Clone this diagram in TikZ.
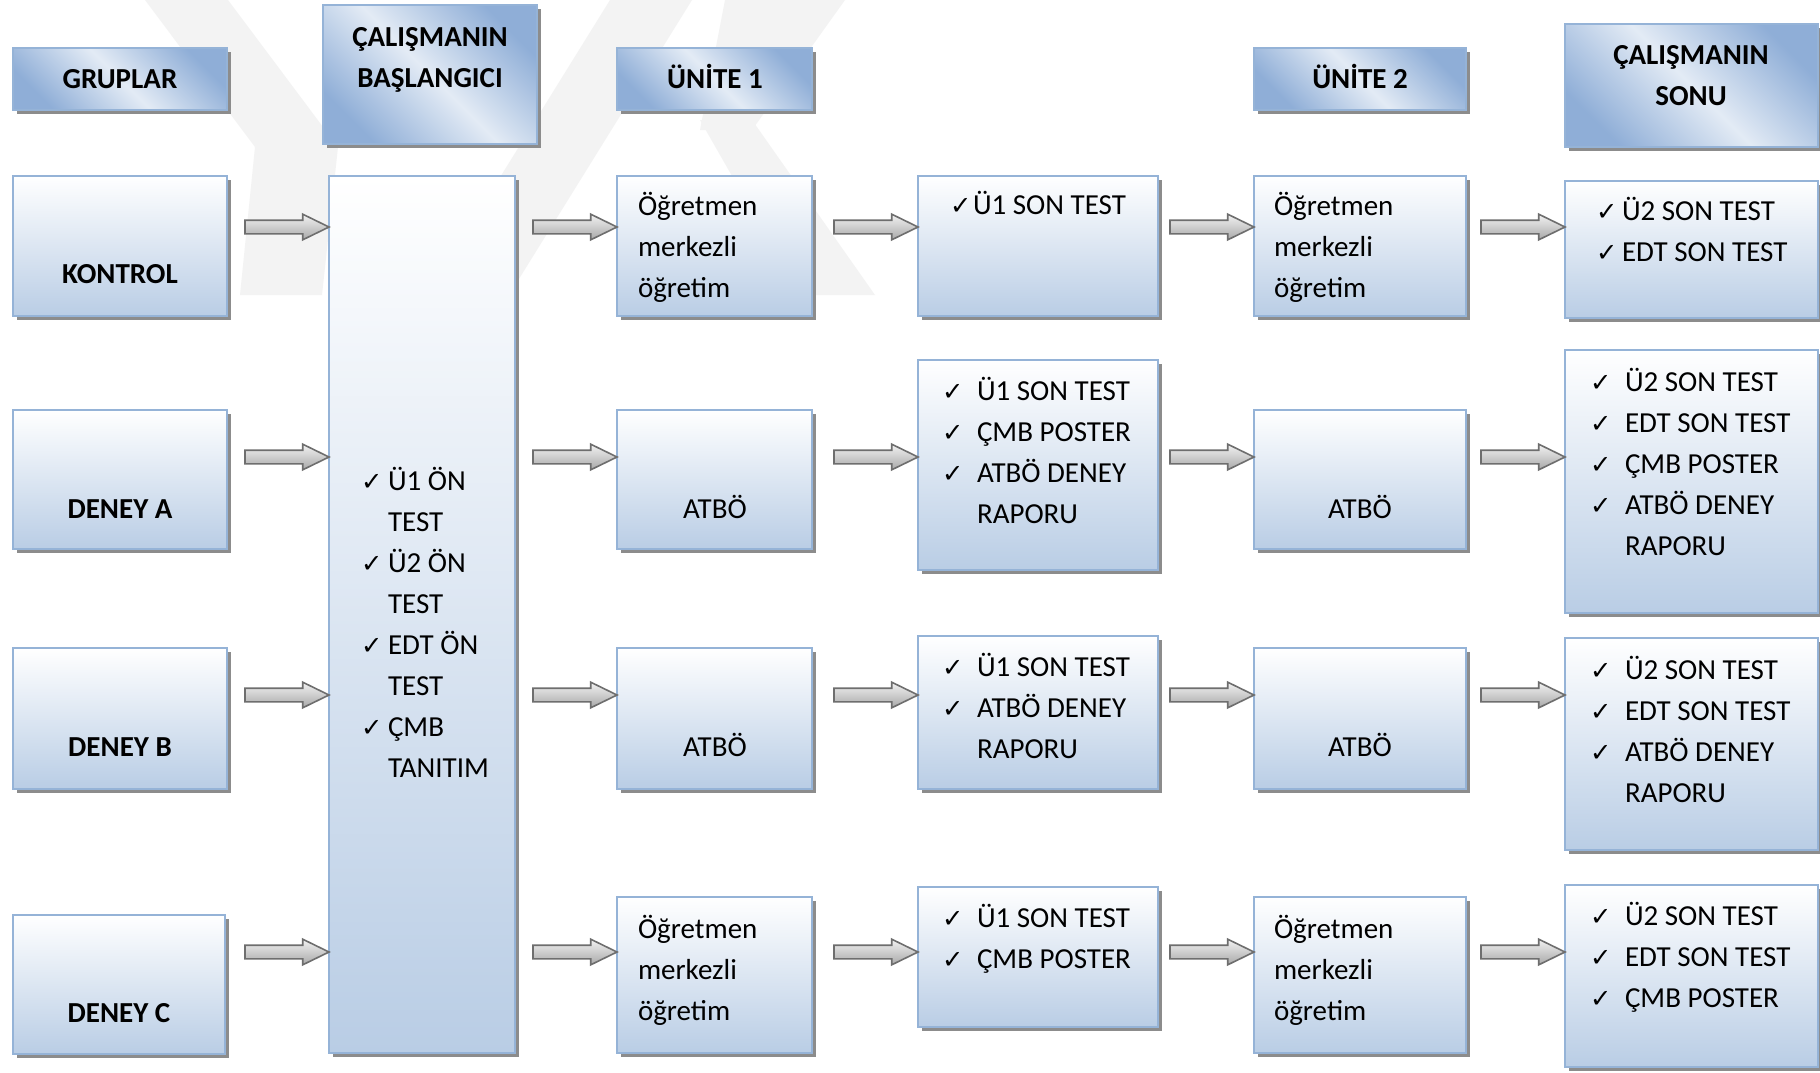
\documentclass[tikz,border=0pt]{standalone}
\usepackage{fontspec}
\setmainfont{Carlito}
\newfontfamily\chkfont{DejaVu Sans}[Scale=0.88]
\usetikzlibrary{shapes.arrows,shadows,calc}

\definecolor{boxline}{HTML}{95B3D7}
\definecolor{boxbot}{HTML}{B9CDE5}
\definecolor{hdark}{HTML}{8FAED7}
\definecolor{hlight}{HTML}{E3EBF5}
\definecolor{shadowgray}{HTML}{8C8C8C}
\definecolor{arrline}{HTML}{6E6E6E}
\definecolor{arrtop}{HTML}{F2F2F2}
\definecolor{arrbot}{HTML}{A8A8A8}
\definecolor{wmark}{HTML}{F3F3F3}

% check mark in a box of fixed width, and the matching indent
\newcommand\ck[1]{\makebox[#1][l]{\chkfont ✓}}
\newcommand\ind[1]{\hspace*{#1}}
\newcommand\fl{\rule{0pt}{30pt}}

\begin{document}
\begin{tikzpicture}[x=1pt,y=-1pt,
  every node/.style={inner sep=0pt,outer sep=0pt},
  shadowed/.style={general shadow={fill=shadowgray,shadow xshift=4pt,shadow yshift=-4pt}},
  panel/.style={shadowed,draw=boxline,line width=2pt,top color=white,bottom color=boxbot,anchor=north west},
  header/.style={shadowed,draw=boxline,line width=2pt,top color=hdark,bottom color=hdark,middle color=hlight,shading angle=-45,anchor=north west},
  lbl/.style={font=\fontsize{29}{41}\selectfont\bfseries,anchor=base},
  hlbl/.style={font=\fontsize{29}{41}\selectfont\bfseries,align=center,anchor=north},
  plain/.style={font=\fontsize{29}{41}\selectfont,anchor=base},
  txt/.style={font=\fontsize{29}{41}\selectfont,align=left,anchor=north west},
  barrow/.style={single arrow,draw=arrline,line width=1.6pt,top color=arrtop,bottom color=arrbot,
    inner xsep=0pt,inner ysep=6pt,minimum height=84pt,single arrow head extend=6pt,
    single arrow tip angle=52,anchor=tip}
]
\fill[white] (0,0) rectangle (1820,1072);
\useasboundingbox (0,0) rectangle (1820,1072);

% faint background emblem
\begin{scope}
\clip (0,0) rectangle (1820,295);
\fill[wmark] (145,0) -- (228,0) -- (338,147) -- (255,147) -- cycle;
\fill[wmark] (255,147) -- (338,147) -- (322,295) -- (240,295) -- cycle;
\fill[wmark] (610,0) -- (692,0) -- (509,295) -- (427,295) -- cycle;
\fill[wmark] (700,120) -- (752,120) -- (875,295) -- (800,295) -- cycle;
\fill[wmark] (725,0) -- (845,0) -- (752,130) -- (700,130) -- cycle;
\end{scope}

% row levels of the arrows
\coordinate (rK) at (0,227);
\coordinate (rA) at (0,457);
\coordinate (rB) at (0,695);
\coordinate (rC) at (0,952);

% header boxes
\node[header,minimum width=214pt,minimum height=62pt]  (hGrp)   at (13,48)  {};
\node[header,minimum width=214pt,minimum height=139pt] (hStart) at (323,5)  {};
\node[header,minimum width=195pt,minimum height=62pt]  (hU1)    at (617,48) {};
\node[header,minimum width=212pt,minimum height=62pt]  (hU2)    at (1254,48) {};
\node[header,minimum width=253pt,minimum height=123pt] (hEnd)   at (1565,24) {};

% groups
\node[panel,minimum width=214pt,minimum height=140pt] (gK) at (13,176) {};
\node[panel,minimum width=214pt,minimum height=139pt] (gA) at (13,410) {};
\node[panel,minimum width=214pt,minimum height=141pt] (gB) at (13,648) {};
\node[panel,minimum width=212pt,minimum height=139pt] (gC) at (13,915) {};

% start of the study
\node[panel,minimum width=186pt,minimum height=877pt] (start) at (329,176) {};

% unit 1
\node[panel,minimum width=195pt,minimum height=140pt] (u1K) at (617,176) {};
\node[panel,minimum width=195pt,minimum height=139pt] (u1A) at (617,410) {};
\node[panel,minimum width=195pt,minimum height=141pt] (u1B) at (617,648) {};
\node[panel,minimum width=195pt,minimum height=156pt] (u1C) at (617,897) {};

% unit 1 tests
\node[panel,minimum width=240pt,minimum height=140pt] (t1K) at (918,176) {};
\node[panel,minimum width=240pt,minimum height=210pt] (t1A) at (918,360) {};
\node[panel,minimum width=240pt,minimum height=153pt] (t1B) at (918,636) {};
\node[panel,minimum width=240pt,minimum height=140pt] (t1C) at (918,887) {};

% unit 2
\node[panel,minimum width=212pt,minimum height=140pt] (u2K) at (1254,176) {};
\node[panel,minimum width=212pt,minimum height=139pt] (u2A) at (1254,410) {};
\node[panel,minimum width=212pt,minimum height=141pt] (u2B) at (1254,648) {};
\node[panel,minimum width=212pt,minimum height=156pt] (u2C) at (1254,897) {};

% end of the study
\node[panel,minimum width=253pt,minimum height=137pt] (eK) at (1565,181) {};
\node[panel,minimum width=253pt,minimum height=263pt] (eA) at (1565,350) {};
\node[panel,minimum width=253pt,minimum height=212pt] (eB) at (1565,638) {};
\node[panel,minimum width=253pt,minimum height=182pt] (eC) at (1565,885) {};

% block arrows
\foreach \r in {K,A,B,C}{
  \node[barrow] (a\r1) at (start.west |- r\r) {};
  \node[barrow] (a\r2) at (u1\r.west |- r\r) {};
  \node[barrow] (a\r3) at (t1\r.west |- r\r) {};
  \node[barrow] (a\r4) at (u2\r.west |- r\r) {};
  \node[barrow] (a\r5) at (e\r.west |- r\r) {};
}

% header texts
\node[lbl] (tGrp) at (120,88) {GRUPLAR};
\node[hlbl] (tStart) at (430,16) {\fl ÇALIŞMANIN\\BAŞLANGICI};
\node[lbl] (tU1) at (715,88) {ÜNİTE 1};
\node[lbl] (tU2) at (1360,88) {ÜNİTE 2};
\node[hlbl] (tEnd) at (1691,34) {\fl ÇALIŞMANIN\\SONU};

% group names
\node[lbl] (tgK) at (120,283) {KONTROL};
\node[lbl] (tgA) at (120,518) {DENEY A};
\node[lbl] (tgB) at (120,756) {DENEY B};
\node[lbl] (tgC) at (119,1022) {DENEY C};

% start list
\node[txt] (tStartList) at (361,460) {\fl\ck{27pt}Ü1 ÖN\\\ind{27pt}TEST\\\ck{27pt}Ü2 ÖN\\\ind{27pt}TEST\\\ck{27pt}EDT ÖN\\\ind{27pt}TEST\\\ck{27pt}ÇMB\\\ind{27pt}TANITIM};

% unit 1 contents
\node[txt] (tu1K) at (638,185) {\fl Öğretmen\\merkezli\\öğretim};
\node[plain] (tu1A) at (715,518) {ATBÖ};
\node[plain] (tu1B) at (715,756) {ATBÖ};
\node[txt] (tu1C) at (638,908) {\fl Öğretmen\\merkezli\\öğretim};

% unit 1 tests
\node[txt] (tt1K) at (950,184) {\fl\ck{23pt}Ü1 SON TEST};
\node[txt] (tt1A) at (942,370) {\fl\ck{35pt}Ü1 SON TEST\\\ck{35pt}ÇMB POSTER\\\ck{35pt}ATBÖ DENEY\\\ind{35pt}RAPORU};
\node[txt] (tt1B) at (942,646) {\fl\ck{35pt}Ü1 SON TEST\\\ck{35pt}ATBÖ DENEY\\\ind{35pt}RAPORU};
\node[txt] (tt1C) at (942,897) {\fl\ck{35pt}Ü1 SON TEST\\\ck{35pt}ÇMB POSTER};

% unit 2 contents
\node[txt] (tu2K) at (1274,185) {\fl Öğretmen\\merkezli\\öğretim};
\node[plain] (tu2A) at (1360,518) {ATBÖ};
\node[plain] (tu2B) at (1360,756) {ATBÖ};
\node[txt] (tu2C) at (1274,908) {\fl Öğretmen\\merkezli\\öğretim};

% end contents
\node[txt] (teK) at (1596,190) {\fl\ck{26pt}Ü2 SON TEST\\\ck{26pt}EDT SON TEST};
\node[txt] (teA) at (1590,361) {\fl\ck{35pt}Ü2 SON TEST\\\ck{35pt}EDT SON TEST\\\ck{35pt}ÇMB POSTER\\\ck{35pt}ATBÖ DENEY\\\ind{35pt}RAPORU};
\node[txt] (teB) at (1590,649) {\fl\ck{35pt}Ü2 SON TEST\\\ck{35pt}EDT SON TEST\\\ck{35pt}ATBÖ DENEY\\\ind{35pt}RAPORU};
\node[txt] (teC) at (1590,895) {\fl\ck{35pt}Ü2 SON TEST\\\ck{35pt}EDT SON TEST\\\ck{35pt}ÇMB POSTER};
\end{tikzpicture}
\end{document}
